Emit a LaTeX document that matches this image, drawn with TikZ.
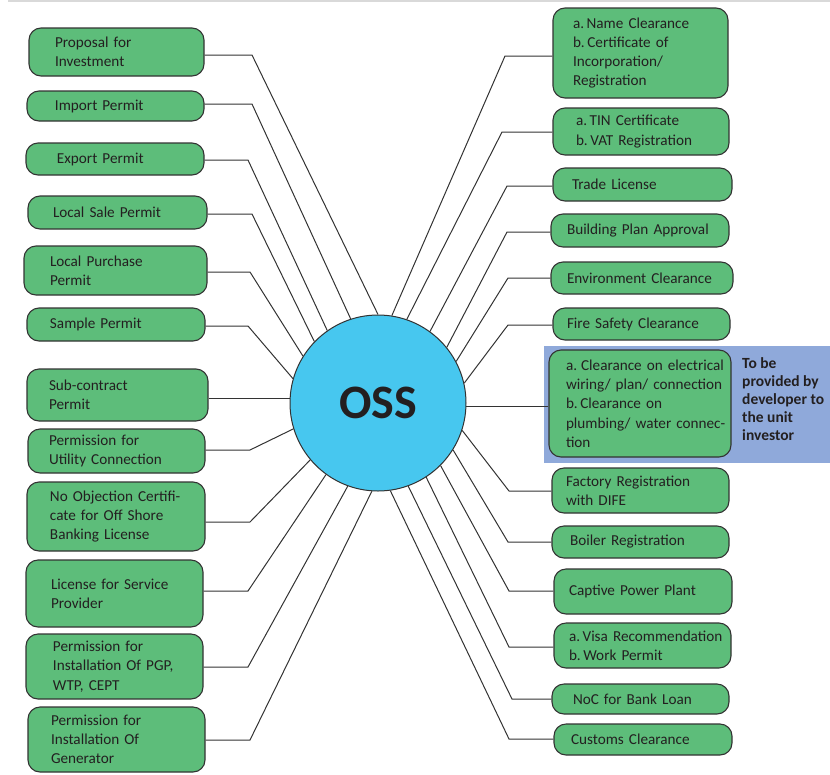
\documentclass[tikz,border=0pt]{standalone}
\usepackage{fontspec}
\setmainfont{Carlito}
\definecolor{boxgreen}{HTML}{5DBD7A}
\definecolor{osscyan}{HTML}{47C7EF}
\definecolor{noteblue}{HTML}{8FA9DA}
\definecolor{ink}{HTML}{231F20}
\definecolor{edge}{HTML}{333333}
\tikzset{
  gbox/.style={draw=edge, line width=1.1pt, fill=boxgreen, rounded corners=12pt,
    inner sep=0pt, align=left, font=\fontsize{15.2}{19.3}\selectfont, text=ink},
  conn/.style={draw=edge, line width=1pt},
  notetext/.style={inner sep=0pt, align=left, text=ink,
    font=\bfseries\fontsize{15.5}{18}\selectfont},
}
\newcommand\greenbox[7]{%
  \pgfmathsetmacro\gbw{#4-#2}%
  \pgfmathsetmacro\gbh{#5-#3}%
  \node[gbox, minimum width=\gbw pt, minimum height=\gbh pt, text width=\gbw pt]
    (#1) at ({(#2+#4)/2},{(#3+#5)/2})
    {\leftskip=#6pt\rightskip=0pt plus 1fil minus 300pt\relax #7\par};%
}
\begin{document}
\begin{tikzpicture}[x=1pt, y=-1pt]
\useasboundingbox (0,0) rectangle (830,774);
\draw[gray!30, line width=1.5pt] (8,1) -- (830,1);
% blue note background
\fill[noteblue] (544,346) rectangle (830,463);
% centre
\node[circle, draw=edge, line width=1pt, fill=osscyan, minimum size=176pt, inner sep=0pt,
  font=\bfseries\fontsize{48}{48}\selectfont, text=ink] (oss) at (378,403) {OSS};
% left column
\greenbox{L1}{29}{28}{204}{76}{26}{Proposal for\\Investment}
\greenbox{L2}{27}{91}{204}{121}{28}{Import Permit}
\greenbox{L3}{26}{143}{204}{175}{31}{Export Permit}
\greenbox{L4}{28}{196}{207}{229}{25}{Local Sale Permit}
\greenbox{L5}{24}{246}{207}{295}{26}{Local Purchase\\Permit}
\greenbox{L6}{27}{308}{205}{341}{23}{Sample Permit}
\greenbox{L7}{27}{369}{208}{421}{22}{Sub-contract\\Permit}
\greenbox{L8}{28}{429}{205}{473}{21}{Permission for\\Utility Connection}
\greenbox{L9}{27}{482}{205}{551}{23}{No Objection Certifi-\\cate for Off Shore\\Banking License}
\greenbox{L10}{26}{560}{203}{627}{25}{License for Service\\Provider}
\greenbox{L11}{26}{634}{203}{699}{27}{Permission for\\Installation Of PGP,\\WTP, CEPT}
\greenbox{L12}{28}{707}{205}{772}{23}{Permission for\\Installation Of\\Generator}
% right column
\greenbox{R1}{553}{8}{728}{98}{20}{a.\,Name Clearance\\b.\,Certificate of\\Incorporation/\\Registration}
\greenbox{R2}{553}{108}{729}{155}{23}{a.\,TIN Certificate\\b.\,VAT Registration}
\greenbox{R3}{553}{168}{732}{201}{19}{Trade License}
\greenbox{R4}{551}{214}{729}{247}{16}{Building Plan Approval}
\greenbox{R5}{551}{262}{733}{294}{16}{Environment Clearance}
\greenbox{R6}{553}{308}{730}{340}{14}{Fire Safety Clearance}
\greenbox{R7}{549}{350}{731}{457}{17}{a.\hspace{4pt}Clearance on electrical\\wiring/ plan/ connection\\b.\,Clearance on\\plumbing/ water connec-\\tion}
\greenbox{R8}{552}{468}{729}{513}{14}{Factory Registration\\with DIFE}
\greenbox{R9}{552}{526}{729}{558}{18}{Boiler Registration}
\greenbox{R10}{554}{569}{732}{614}{15}{Captive Power Plant}
\greenbox{R11}{554}{623}{731}{668}{15}{a.\,Visa Recommendation\\b.\,Work Permit}
\greenbox{R12}{552}{684}{729}{714}{21}{NoC for Bank Loan}
\greenbox{R13}{554}{724}{732}{755}{17}{Customs Clearance}
% note
\node[notetext, anchor=north west] (note) at (742,357) {To be\\provided by\\developer to\\the unit\\investor};
% bends
\coordinate (bL1) at (252,55);
\coordinate (bL2) at (252,104);
\coordinate (bL3) at (248,160);
\coordinate (bL4) at (252,214);
\coordinate (bL5) at (250,272);
\coordinate (bL6) at (248,326);
\coordinate (bL8) at (250,450);
\coordinate (bL9) at (250,522);
\coordinate (bL10) at (248,591);
\coordinate (bL11) at (248,667);
\coordinate (bL12) at (250,740);
\coordinate (bR1) at (505,56);
\coordinate (bR2) at (502,132);
\coordinate (bR3) at (507,186);
\coordinate (bR4) at (507,232);
\coordinate (bR5) at (508,278);
\coordinate (bR6) at (508,325);
\coordinate (bR8) at (509,491);
\coordinate (bR9) at (508,542);
\coordinate (bR10) at (509,591);
\coordinate (bR11) at (509,647);
\coordinate (bR12) at (512,699);
\coordinate (bR13) at (509,739);
% connectors left
\draw[conn] (L1.east |- bL1) -- (bL1) -- (oss.90.8);
\draw[conn] (L2.east |- bL2) -- (bL2) -- (oss.108);
\draw[conn] (L3.east |- bL3) -- (bL3) -- (oss.125.4);
\draw[conn] (L4.east |- bL4) -- (bL4) -- (oss.136.7);
\draw[conn] (L5.east |- bL5) -- (bL5) -- (oss.148.4);
\draw[conn] (L6.east |- bL6) -- (bL6) -- (oss.164.9);
\draw[conn] (L7.east |- oss.177.4) -- (oss.177.4);
\draw[conn] (L8.east |- bL8) -- (bL8) -- (oss.197.2);
\draw[conn] (L9.east |- bL9) -- (bL9) -- (oss.220.8);
\draw[conn] (L10.east |- bL10) -- (bL10) -- (oss.234.7);
\draw[conn] (L11.east |- bL11) -- (bL11) -- (oss.250.8);
\draw[conn] (L12.east |- bL12) -- (bL12) -- (oss.266.9);
% connectors right
\draw[conn] (R1.west |- bR1) -- (bR1) -- (oss.81.2);
\draw[conn] (R2.west |- bR2) -- (bR2) -- (oss.71.1);
\draw[conn] (R3.west |- bR3) -- (bR3) -- (oss.54.3);
\draw[conn] (R4.west |- bR4) -- (bR4) -- (oss.39.3);
\draw[conn] (R5.west |- bR5) -- (bR5) -- (oss.28.6);
\draw[conn] (R6.west |- bR6) -- (bR6) -- (oss.13.8);
\draw[conn] (R7.west |- oss.358.7) -- (oss.358.7);
\draw[conn] (R8.west |- bR8) -- (bR8) -- (oss.342.4);
\draw[conn] (R9.west |- bR9) -- (bR9) -- (oss.328.6);
\draw[conn] (R10.west |- bR10) -- (bR10) -- (oss.315.7);
\draw[conn] (R11.west |- bR11) -- (bR11) -- (oss.303.7);
\draw[conn] (R12.west |- bR12) -- (bR12) -- (oss.290.6);
\draw[conn] (R13.west |- bR13) -- (bR13) -- (oss.278.8);
\end{tikzpicture}
\end{document}
